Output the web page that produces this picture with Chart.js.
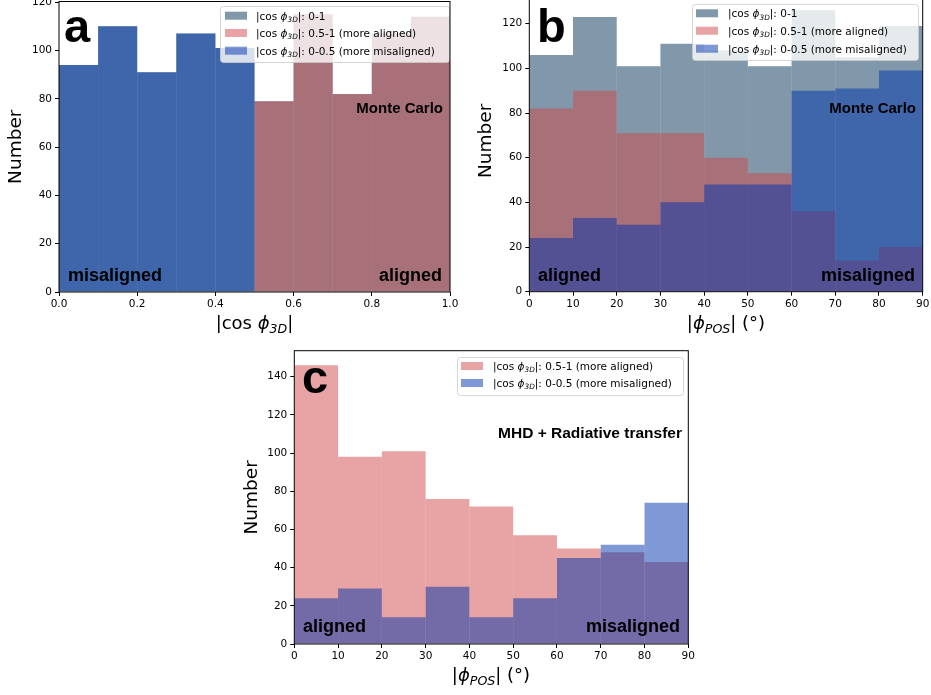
<!DOCTYPE html>
<html>
<head>
<meta charset="utf-8">
<script src="https://cdn.jsdelivr.net/npm/chart.js@4.4.0/dist/chart.umd.min.js"></script>
<style>
body { margin: 0; background: #fff; width: 931px; height: 695px; overflow: hidden; position: relative; }
canvas { position: absolute; }
</style>
</head>
<body>
<canvas id="pa" width="465" height="340" style="left:0px;top:0px"></canvas>
<canvas id="pb" width="461" height="350" style="left:470px;top:-10px"></canvas>
<canvas id="pc" width="460" height="350" style="left:240px;top:345px"></canvas>
<script>
// --- data ---
// panel a: histogram of |cos phi_3D|
const aEdges = [0, 0.1, 0.2, 0.3, 0.4, 0.5, 0.6, 0.7, 0.8, 0.9, 1.0];
const aAll = [94, 110, 91, 107, 101, 79, 115, 82, 107, 114];
const aAligned = [0, 0, 0, 0, 0, 79, 115, 82, 107, 114];
const aMisaligned = [94, 110, 91, 107, 101, 0, 0, 0, 0, 0];
const aXTicks = [0, 0.2, 0.4, 0.6, 0.8, 1.0];
const aXTickLabels = ['0.0', '0.2', '0.4', '0.6', '0.8', '1.0'];
const aYTicks = [0, 20, 40, 60, 80, 100, 120];

// panel b: |phi_POS|, Monte Carlo
const bEdges = [0, 10, 20, 30, 40, 50, 60, 70, 80, 90];
const bAll = [106, 123, 101, 111, 108, 101, 126, 105, 119];
const bAligned = [82, 90, 71, 71, 60, 53, 36, 14, 20];
const bMisaligned = [24, 33, 30, 40, 48, 48, 90, 91, 99];
const bXTicks = [0, 10, 20, 30, 40, 50, 60, 70, 80, 90];
const bYTicks = [0, 20, 40, 60, 80, 100, 120];

// panel c: |phi_POS|, MHD + radiative transfer
const cEdges = [0, 10, 20, 30, 40, 50, 60, 70, 80, 90];
const cAligned = [146, 98, 101, 76, 72, 57, 50, 48, 43];
const cMisaligned = [24, 29, 14, 30, 14, 24, 45, 52, 74];
const cXTicks = [0, 10, 20, 30, 40, 50, 60, 70, 80, 90];
const cYTicks = [0, 20, 40, 60, 80, 100, 120, 140];

const rangeLabels = ['0-1', '0.5-1 (more aligned)', '0-0.5 (more misaligned)'];

const GREY = 'rgba(1,49,85,0.5)';
const PINK = 'rgba(209,73,73,0.5)';
const BLUE = 'rgba(0,51,173,0.5)';

const FAM = 'DejaVu Sans';
const BOLD = 'Liberation Sans';

function toPoints(edges, counts) {
    return counts.map((v, i) => ({ x: (edges[i] + edges[i + 1]) / 2, y: v }));
}

// text with sub/superscripts, parts = [text, font, dy]
function drawRich(ctx, parts, x, y, align) {
    let w = 0;
    parts.forEach(p => { ctx.font = p[1]; w += ctx.measureText(p[0]).width; });
    let cx = align === 'center' ? x - w / 2 : (align === 'right' ? x - w : x);
    ctx.textAlign = 'left';
    ctx.textBaseline = 'alphabetic';
    parts.forEach(p => {
        ctx.font = p[1];
        ctx.fillText(p[0], cx, y + (p[2] || 0));
        cx += ctx.measureText(p[0]).width;
    });
}

function cosParts(s) {
    return [['|cos ', s + 'px ' + FAM], ['ϕ', 'italic ' + s + 'px ' + FAM],
            ['3D', 'italic ' + (s * 0.7) + 'px ' + FAM, s * 0.22], ['|', s + 'px ' + FAM]];
}
function posParts(s) {
    return [['|', s + 'px ' + FAM], ['ϕ', 'italic ' + s + 'px ' + FAM],
            ['POS', 'italic ' + (s * 0.7) + 'px ' + FAM, s * 0.22], ['| (', s + 'px ' + FAM],
            ['°', s + 'px ' + FAM], [')', s + 'px ' + FAM]];
}

// per-panel decorations (legend box, labels, x title), canvas coordinates
const decoFor = {
    pa: {
        legend: { x: 220, y: 6, w: 229, h: 56, px: 225, tx: 256, rows: [15.7, 33, 50.7] },
        texts: [
            { t: 'a', font: 'bold 47px ' + BOLD, x: 64, y: 41.7, align: 'left' },
            { t: 'Monte Carlo', font: 'bold 15px ' + BOLD, x: 443, y: 112.5, align: 'right' },
            { t: 'misaligned', font: 'bold 18px ' + BOLD, x: 68, y: 281, align: 'left' },
            { t: 'aligned', font: 'bold 18px ' + BOLD, x: 442, y: 281, align: 'right' }
        ],
        xTitle: 'cos', tx: 254.5, ty: 329
    },
    pb: {
        legend: { x: 222, y: 14, w: 226, h: 56, px: 226, tx: 258, rows: [23.3, 40.7, 58.7] },
        texts: [
            { t: 'b', font: 'bold 47px ' + BOLD, x: 67, y: 51.7, align: 'left' },
            { t: 'Monte Carlo', font: 'bold 15px ' + BOLD, x: 446, y: 122.5, align: 'right' },
            { t: 'aligned', font: 'bold 18px ' + BOLD, x: 68, y: 291, align: 'left' },
            { t: 'misaligned', font: 'bold 18px ' + BOLD, x: 445, y: 291, align: 'right' }
        ],
        xTitle: 'pos', tx: 256, ty: 339
    },
    pc: {
        legend: { x: 217, y: 12, w: 226, h: 38, px: 221, tx: 253, rows: [21, 38] },
        texts: [
            { t: 'c', font: 'bold 47px ' + BOLD, x: 62, y: 47.7, align: 'left' },
            { t: 'MHD + Radiative transfer', font: 'bold 15.5px ' + BOLD, x: 442, y: 93, align: 'right' },
            { t: 'aligned', font: 'bold 18px ' + BOLD, x: 63, y: 287, align: 'left' },
            { t: 'misaligned', font: 'bold 18px ' + BOLD, x: 440, y: 287, align: 'right' }
        ],
        xTitle: 'pos', tx: 251, ty: 336
    }
};

const decoPlugin = {
    id: 'deco',
    afterDatasetsDraw(chart) {
        const d = decoFor[chart.canvas.id];
        const ctx = chart.ctx;
        const ca = chart.chartArea;
        ctx.save();
        // legend
        const L = d.legend;
        ctx.fillStyle = 'rgba(255,255,255,0.8)';
        ctx.strokeStyle = 'rgba(204,204,204,0.8)';
        ctx.lineWidth = 1;
        ctx.beginPath();
        ctx.roundRect(L.x + 0.5, L.y + 0.5, L.w, L.h, 3);
        ctx.fill();
        ctx.stroke();
        chart.data.datasets.forEach((ds, i) => {
            const cy = L.rows[i];
            ctx.fillStyle = ds.backgroundColor;
            ctx.fillRect(L.px, cy - 4, 22, 8);
            ctx.fillStyle = '#000';
            drawRich(ctx, cosParts(10.5).concat([[': ' + ds.range, '10.5px ' + FAM]]), L.tx, cy + 4, 'left');
        });
        // annotations
        ctx.fillStyle = '#000';
        ctx.textBaseline = 'alphabetic';
        d.texts.forEach(t => {
            ctx.font = t.font;
            ctx.textAlign = t.align;
            ctx.fillText(t.t, t.x, t.y);
        });
        // x axis title
        drawRich(ctx, d.xTitle === 'cos' ? cosParts(18) : posParts(18), d.tx, d.ty, 'center');
        // spines
        ctx.strokeStyle = '#000';
        ctx.lineWidth = 1;
        ctx.strokeRect(ca.left, ca.top, ca.right - ca.left, ca.bottom - ca.top);
        ctx.restore();
    }
};

function makePanel(id, p) {
    const canvas = document.getElementById(id);
    const W = canvas.width, H = canvas.height;
    const tickFont = { family: FAM, size: 10.5 };
    return new Chart(canvas, {
        type: 'bar',
        data: { datasets: p.datasets },
        plugins: [decoPlugin],
        options: {
            responsive: false,
            animation: false,
            events: [],
            layout: { padding: { left: 0, top: p.area.top, right: W - p.area.right, bottom: 0 } },
            plugins: { legend: { display: false }, tooltip: { enabled: false } },
            datasets: { bar: { grouped: false, barPercentage: 1, categoryPercentage: 1, borderWidth: 0, inflateAmount: 0 } },
            scales: {
                x: {
                    type: 'linear', min: p.xMin, max: p.xMax, offset: false,
                    grid: { offset: false, drawOnChartArea: false, drawTicks: true, tickLength: 4, color: '#000' },
                    border: { display: false },
                    ticks: {
                        font: tickFont, color: '#000', padding: 2, maxRotation: 0, autoSkip: false,
                        callback: (v, i) => p.xLabels[i]
                    },
                    afterBuildTicks: s => { s.ticks = p.xTicks.map(v => ({ value: v })); },
                    afterFit: s => { s.height = H - p.area.bottom; s.paddingLeft = 0; s.paddingRight = 0; }
                },
                y: {
                    min: 0, max: p.yMax,
                    grid: { drawOnChartArea: false, drawTicks: true, tickLength: 4, color: '#000' },
                    border: { display: false },
                    ticks: { font: tickFont, color: '#000', padding: 3, autoSkip: false },
                    afterBuildTicks: s => { s.ticks = p.yTicks.map(v => ({ value: v })); },
                    title: { display: true, text: 'Number', color: '#000', font: { family: FAM, size: 18.5 }, padding: { top: p.yTitlePad, bottom: 0 } },
                    afterFit: s => { s.width = p.area.left; s.paddingTop = 0; s.paddingBottom = 0; }
                }
            }
        }
    });
}

makePanel('pa', {
    area: { left: 59, top: 1.5, right: 450, bottom: 292 },
    xMin: 0, xMax: 1, yMax: 120.3,
    xTicks: aXTicks, xLabels: aXTickLabels, yTicks: aYTicks, yTitlePad: 5,
    datasets: [
        { data: toPoints(aEdges, aAll), backgroundColor: GREY, order: 3, range: rangeLabels[0] },
        { data: toPoints(aEdges, aAligned), backgroundColor: PINK, order: 2, range: rangeLabels[1] },
        { data: toPoints(aEdges, aMisaligned), backgroundColor: BLUE, order: 1, range: rangeLabels[2] }
    ]
});

makePanel('pb', {
    area: { left: 59.3, top: 0, right: 452.7, bottom: 301.7 },
    xMin: 0, xMax: 90, yMax: 135.1,
    xTicks: bXTicks, xLabels: bXTicks.map(String), yTicks: bYTicks, yTitlePad: 5,
    datasets: [
        { data: toPoints(bEdges, bAll), backgroundColor: GREY, order: 3, range: rangeLabels[0] },
        { data: toPoints(bEdges, bAligned), backgroundColor: PINK, order: 2, range: rangeLabels[1] },
        { data: toPoints(bEdges, bMisaligned), backgroundColor: BLUE, order: 1, range: rangeLabels[2] }
    ]
});

makePanel('pc', {
    area: { left: 54.3, top: 5.7, right: 448.3, bottom: 299 },
    xMin: 0, xMax: 90, yMax: 153.6,
    xTicks: cXTicks, xLabels: cXTicks.map(String), yTicks: cYTicks, yTitlePad: 1,
    datasets: [
        { data: toPoints(cEdges, cAligned), backgroundColor: PINK, order: 2, range: rangeLabels[1] },
        { data: toPoints(cEdges, cMisaligned), backgroundColor: BLUE, order: 1, range: rangeLabels[2] }
    ]
});
</script>
</body>
</html>
